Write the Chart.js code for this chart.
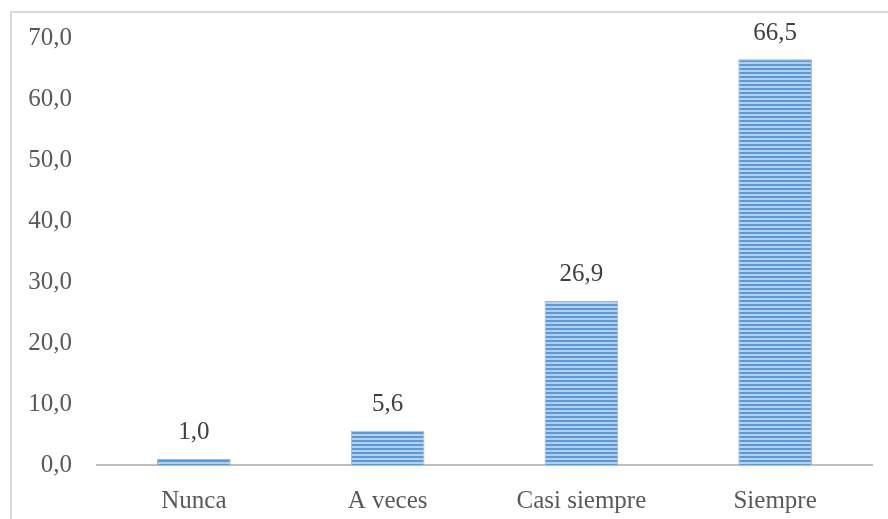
<!DOCTYPE html>
<html>
<head>
<meta charset="utf-8">
<script src="https://cdn.jsdelivr.net/npm/chart.js@4.4.0/dist/chart.umd.min.js"></script>
<style>
    html, body { margin: 0; padding: 0; background: #fff; }
    #wrap { position: relative; width: 888px; height: 519px; overflow: hidden; }
    #frame { position: absolute; left: 10px; top: 11px; width: 900px; height: 540px; border: 2px solid #d9d9d9; box-sizing: border-box; }
    canvas { position: absolute; left: 0; top: 0; }
</style>
</head>
<body>
<div id="wrap">
    <div id="frame"></div>
    <canvas id="bar_chart" width="888" height="519"></canvas>
</div>
<script>
var categories = ["Nunca", "A veces", "Casi siempre", "Siempre"];
var values = [1.0, 5.6, 26.9, 66.5];
var yTicks = [0, 10, 20, 30, 40, 50, 60, 70];

var FONT = '"Liberation Serif", "Times New Roman", serif';

function fmt(v) {
    return v.toFixed(1).replace('.', ',');
}

function stripes() {
    var c = document.createElement('canvas');
    c.width = 4; c.height = 4;
    var ctx = c.getContext('2d');
    ctx.fillStyle = '#b4d0ee';
    ctx.fillRect(0, 0, 4, 4);
    ctx.fillStyle = '#5b9bd5';
    ctx.fillRect(0, 0, 4, 2);
    return ctx.createPattern(c, 'repeat');
}

var valueLabels = {
    id: 'valueLabels',
    afterDatasetsDraw: function (chart) {
        var ctx = chart.ctx;
        var meta = chart.getDatasetMeta(0);
        ctx.save();
        ctx.font = '25px ' + FONT;
        ctx.fillStyle = '#404040';
        ctx.textAlign = 'center';
        ctx.textBaseline = 'middle';
        meta.data.forEach(function (bar, i) {
            ctx.fillText(fmt(values[i]), bar.x, bar.y - 26);
        });
        ctx.restore();
    }
};

new Chart(document.getElementById("bar_chart").getContext("2d"), {
    type: 'bar',
    data: {
        labels: categories,
        datasets: [{
            data: values,
            backgroundColor: stripes(),
            borderColor: '#8fb8e3',
            borderWidth: 1,
            categoryPercentage: 1,
            barPercentage: 0.38
        }]
    },
    options: {
        responsive: false,
        animation: false,
        layout: { padding: { top: 38, right: 16, bottom: 0, left: 0 } },
        plugins: { legend: { display: false }, tooltip: { enabled: false } },
        scales: {
            x: {
                grid: { display: false },
                border: { display: true, color: '#bfbfbf', width: 2 },
                ticks: {
                    padding: 13,
                    color: '#595959',
                    font: { family: FONT, size: 25 }
                },
                afterFit: function (scale) { scale.height = 54; }
            },
            y: {
                min: 0,
                max: 70,
                grid: { display: false },
                border: { display: false },
                afterBuildTicks: function (scale) {
                    scale.ticks = yTicks.map(function (v) { return { value: v }; });
                },
                ticks: {
                    padding: 17,
                    color: '#595959',
                    font: { family: FONT, size: 25 },
                    callback: function (v) { return fmt(v); }
                },
                afterFit: function (scale) { scale.width = 97; }
            }
        }
    },
    plugins: [valueLabels]
});
</script>
</body>
</html>
